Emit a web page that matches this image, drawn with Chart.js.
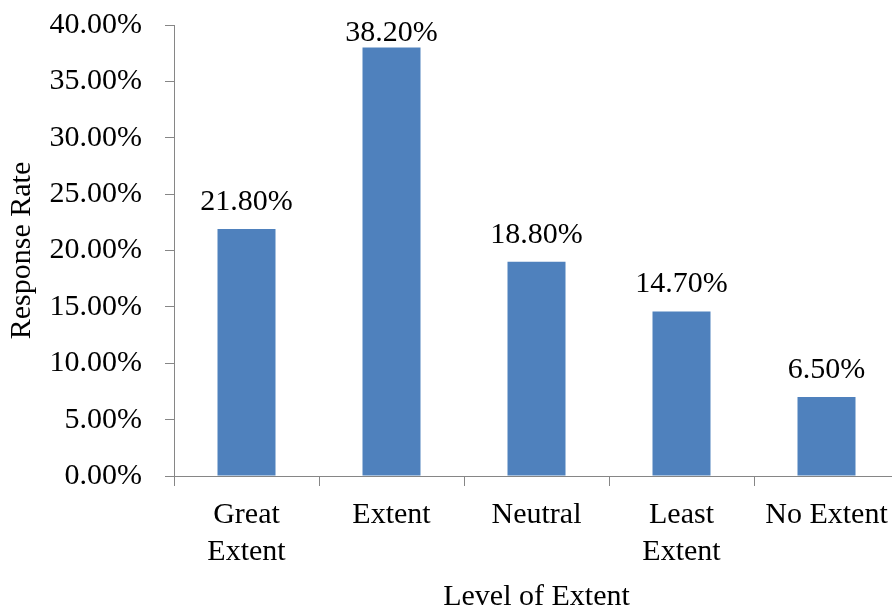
<!DOCTYPE html>
<html>
<head>
<meta charset="utf-8">
<script src="https://cdn.jsdelivr.net/npm/chart.js@4/dist/chart.umd.min.js"></script>
<style>
  html, body { margin: 0; padding: 0; background: #fff; overflow: hidden; }
</style>
</head>
<body>
<canvas id="extentChart" width="900" height="610"></canvas>
<script>
// Level of extent vs response rate (bar heights, labels as printed)
const CATEGORIES = [["Great", "Extent"], "Extent", "Neutral", ["Least", "Extent"], "No Extent"];
const BAR_VALUES = [21.9, 38.0, 19.0, 14.6, 7.0];
const BAR_LABELS = ["21.80%", "38.20%", "18.80%", "14.70%", "6.50%"];
const Y_MIN = 0;
const Y_MAX = 40;
const Y_STEP = 5;

const FONT_FAMILY = "'Liberation Serif', 'Times New Roman', serif";
const AXIS_GREY = "#868686";
const BAR_BLUE = "#4F81BD";

// draws the value text above each bar, kept inside the plot at the top
const barLabelPlugin = {
  id: "barLabels",
  afterDatasetsDraw(chart) {
    const { ctx, chartArea } = chart;
    const meta = chart.getDatasetMeta(0);
    ctx.save();
    ctx.font = `30px ${FONT_FAMILY}`;
    ctx.fillStyle = "#000";
    ctx.textAlign = "center";
    ctx.textBaseline = "alphabetic";
    meta.data.forEach((bar, i) => {
      const y = Math.max(bar.y - 19, chartArea.top + 16);
      ctx.fillText(BAR_LABELS[i], bar.x, y);
    });
    ctx.restore();
  }
};

const ctx = document.getElementById("extentChart").getContext("2d");
new Chart(ctx, {
  type: "bar",
  data: {
    labels: CATEGORIES,
    datasets: [
      {
        label: "Response Rate",
        data: BAR_VALUES,
        backgroundColor: BAR_BLUE,
        borderWidth: 0,
        barPercentage: 0.4,
        categoryPercentage: 1
      }
    ]
  },
  options: {
    responsive: false,
    animation: false,
    devicePixelRatio: 1,
    layout: { padding: { top: 25, right: 1, bottom: 0, left: 0 } },
    plugins: {
      legend: { display: false },
      tooltip: { enabled: false }
    },
    scales: {
      x: {
        offset: true,
        grid: {
          offset: true,
          drawOnChartArea: false,
          drawTicks: true,
          tickLength: 10,
          color: AXIS_GREY
        },
        border: { color: AXIS_GREY, width: 1 },
        ticks: {
          color: "#000",
          padding: 11,
          maxRotation: 0,
          autoSkip: false,
          font: { family: FONT_FAMILY, size: 30, lineHeight: 1.22 }
        },
        title: {
          display: true,
          text: "Level of Extent",
          color: "#000",
          padding: { top: 0, bottom: 0 },
          font: { family: FONT_FAMILY, size: 30, lineHeight: 0.85 }
        },
        afterFit(scale) {
          scale.height = 134;
          scale.paddingLeft = 0;
          scale.paddingRight = 0;
        }
      },
      y: {
        min: Y_MIN,
        max: Y_MAX,
        grid: {
          drawOnChartArea: false,
          drawTicks: true,
          tickLength: 9,
          color: AXIS_GREY
        },
        border: { color: AXIS_GREY, width: 1 },
        ticks: {
          stepSize: Y_STEP,
          color: "#000",
          padding: 23,
          font: { family: FONT_FAMILY, size: 30 },
          callback: (v) => v.toFixed(2) + "%"
        },
        title: {
          display: true,
          text: "Response Rate",
          color: "#000",
          padding: { top: 4, bottom: 0 },
          font: { family: FONT_FAMILY, size: 30, lineHeight: 1.2 }
        },
        afterFit(scale) {
          scale.width = 174;
          scale.paddingTop = 0;
          scale.paddingBottom = 0;
        }
      }
    }
  },
  plugins: [barLabelPlugin]
});
</script>
</body>
</html>
